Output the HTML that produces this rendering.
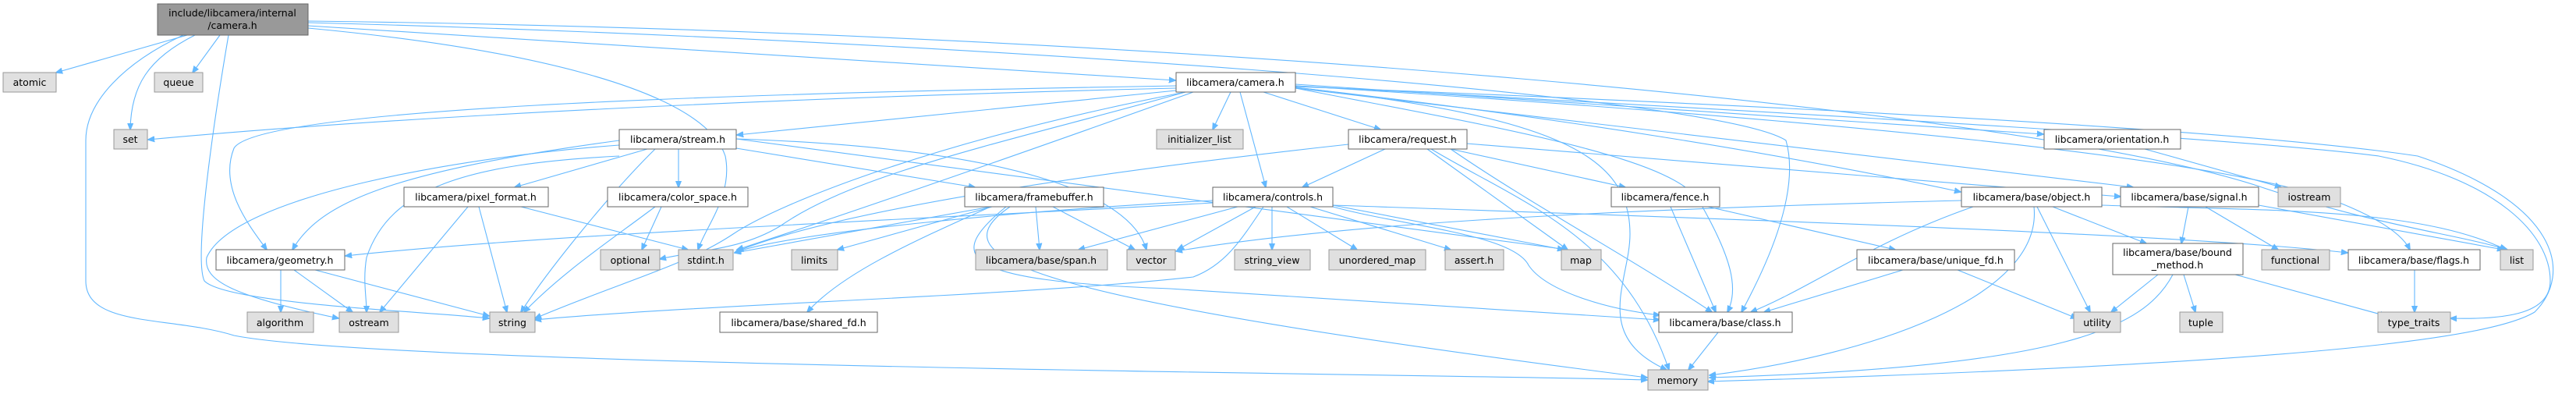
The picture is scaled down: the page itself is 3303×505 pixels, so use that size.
<!DOCTYPE html>
<html><head><meta charset="utf-8"><style>
html,body{margin:0;padding:0;background:#fff;}
svg{display:block;}
text{font-family:"DejaVu Sans","Liberation Sans",sans-serif;font-size:12.5px;fill:#000;text-anchor:middle;}
.g{fill:#e0e0e0;stroke:#999;stroke-width:1;}
.w{fill:#fff;stroke:#666;stroke-width:1;}
.e{fill:none;stroke:#63b8ff;stroke-width:1.1;}
</style></head><body>
<svg width="3303" height="505" viewBox="0 0 3303 505" xmlns="http://www.w3.org/2000/svg">
<defs><marker id="a" viewBox="0 0 10 10" refX="9" refY="5" markerWidth="9" markerHeight="9" markerUnits="userSpaceOnUse" orient="auto"><path d="M0,1 L10,5 L0,9 z" fill="#63b8ff" stroke="#63b8ff"/></marker></defs>
<g marker-end="url(#a)">
<!-- main -->
<path class="e" d="M240,45 L72,93"/>
<path class="e" d="M282,45 L247,93"/>
<path class="e" d="M250,45 C190,75 168,110 167,166"/>
<path class="e" d="M235,45 C160,80 110,130 110,180 L110,360 C110,420 220,405 300,430 C500,470 1900,480 2112,487"/>
<path class="e" d="M293,45 C275,150 248,330 262,360 C290,390 560,400 627,408"/>
<path class="e" d="M395,36 C650,60 900,110 930,200 C940,250 905,290 895,320"/>
<path class="e" d="M395,33 L1507,103"/>
<path class="e" d="M395,29 C1200,50 2200,120 2290,180 C2310,250 2260,350 2233,400"/>
<path class="e" d="M395,27 C1500,40 2600,140 2900,240 C3050,290 3150,300 3215,320"/>
<!-- camera.h -->
<path class="e" d="M1508,113 C1000,125 500,150 190,179"/>
<path class="e" d="M1508,110 C900,120 330,140 300,190 C280,240 320,290 342,320"/>
<path class="e" d="M1508,116 L945,173"/>
<path class="e" d="M1578,118 L1555,166"/>
<path class="e" d="M1590,118 L1623,240"/>
<path class="e" d="M1620,118 L1770,166"/>
<path class="e" d="M1520,118 C1200,180 1000,260 940,300 C880,340 800,360 686,408"/>
<path class="e" d="M1530,118 C1300,200 1100,270 945,320"/>
<path class="e" d="M1520,118 C1300,180 1100,220 1000,290 C950,320 900,320 846,332"/>
<path class="e" d="M1661,108 L2620,172"/>
<path class="e" d="M1661,112 C2000,150 2300,200 2514,246"/>
<path class="e" d="M1661,113 L2735,240"/>
<path class="e" d="M1661,110 C2300,150 2850,200 3000,260 C3050,280 3080,300 3090,320"/>
<path class="e" d="M1661,112 C2000,150 2090,200 2090,300 C2090,360 2040,430 2137,474"/>
<path class="e" d="M1661,113 C1900,160 2150,200 2180,260 C2220,330 2230,370 2215,400"/>
<path class="e" d="M1661,110 C2400,150 2900,180 3050,200 C3200,230 3270,300 3270,360 C3270,400 3220,410 3142,408"/>
<path class="e" d="M1661,111 C2400,140 2900,170 3100,200 C3280,260 3300,350 3250,400 C3200,430 3000,465 2190,489"/>
<!-- stream.h -->
<path class="e" d="M830,191 L660,240"/>
<path class="e" d="M870,191 L870,240"/>
<path class="e" d="M944,190 L1250,240"/>
<path class="e" d="M794,180 C500,220 410,260 375,320"/>
<path class="e" d="M840,191 C780,250 700,350 668,400"/>
<path class="e" d="M794,186 C600,200 300,250 265,330 C260,360 300,380 434,408"/>
<path class="e" d="M944,178 C1300,190 1450,250 1470,320"/>
<path class="e" d="M944,178 L2010,320"/>
<path class="e" d="M794,200 C600,210 500,240 470,330 C465,360 470,380 470,400"/>
<!-- pixel_format -->
<path class="e" d="M600,265 L487,400"/>
<path class="e" d="M614,265 L650,400"/>
<path class="e" d="M668,265 L882,320"/>
<!-- color_space -->
<path class="e" d="M848,265 L823,320"/>
<path class="e" d="M840,265 C780,310 720,350 672,400"/>
<!-- geometry -->
<path class="e" d="M360,346 L360,400"/>
<path class="e" d="M377,346 L452,400"/>
<path class="e" d="M404,346 L627,405"/>
<!-- framebuffer -->
<path class="e" d="M1270,265 L942,324"/>
<path class="e" d="M1272,265 L1074,320"/>
<path class="e" d="M1328,265 L1333,320"/>
<path class="e" d="M1350,265 L1455,320"/>
<path class="e" d="M1270,265 C1170,310 1080,350 1035,400"/>
<path class="e" d="M1290,265 C1210,330 1230,360 1500,370 L2128,410"/>
<path class="e" d="M1295,265 C1200,330 1300,380 2112,484"/>
<!-- controls -->
<path class="e" d="M1555,257 C1300,270 1000,300 942,324"/>
<path class="e" d="M1587,265 L1383,320"/>
<path class="e" d="M1610,265 L1510,320"/>
<path class="e" d="M1631,265 L1631,320"/>
<path class="e" d="M1650,265 L1740,320"/>
<path class="e" d="M1680,265 L1860,320"/>
<path class="e" d="M1709,263 L2005,320"/>
<path class="e" d="M1709,265 C1800,290 1940,300 1960,340 C1980,370 2050,395 2128,404"/>
<path class="e" d="M1620,265 C1590,310 1570,340 1530,355 C1300,380 900,390 686,410"/>
<path class="e" d="M1555,260 C1200,280 700,300 443,328"/>
<path class="e" d="M1709,263 C2200,280 2800,300 3010,324"/>
<!-- request -->
<path class="e" d="M1776,191 L1670,240"/>
<path class="e" d="M1830,191 L2010,320"/>
<path class="e" d="M1835,191 C1950,260 2080,300 2140,474"/>
<path class="e" d="M1860,191 C1960,260 2090,330 2195,400"/>
<path class="e" d="M1860,191 L2084,240"/>
<path class="e" d="M1729,185 C1500,210 1100,260 945,322"/>
<path class="e" d="M1881,184 L2719,252"/>
<!-- fence -->
<path class="e" d="M2142,265 L2200,400"/>
<path class="e" d="M2190,265 L2430,320"/>
<!-- unique_fd -->
<path class="e" d="M2440,346 L2262,400"/>
<path class="e" d="M2510,346 L2663,408"/>
<!-- object -->
<path class="e" d="M2530,265 C2400,310 2320,370 2245,400"/>
<path class="e" d="M2608,265 C2620,380 2400,455 2192,481"/>
<path class="e" d="M2612,265 L2680,400"/>
<path class="e" d="M2632,265 L2752,312"/>
<path class="e" d="M2695,263 C2900,270 3100,265 3213,320"/>
<path class="e" d="M2515,257 C2000,270 1700,290 1508,322"/>
<!-- signal -->
<path class="e" d="M2806,265 L2797,312"/>
<path class="e" d="M2828,265 L2921,320"/>
<path class="e" d="M2896,263 L3210,320"/>
<!-- bound method -->
<path class="e" d="M2767,352 L2707,400"/>
<path class="e" d="M2800,352 L2815,400"/>
<path class="e" d="M2866,352 L3060,405"/>
<path class="e" d="M2786,352 C2750,420 2650,470 2192,484"/>
<!-- misc -->
<path class="e" d="M3096,346 L3096,400"/>
<path class="e" d="M2750,191 L2925,240"/>
<path class="e" d="M2203,426 L2165,474"/>
</g>
<!-- nodes -->
<rect x="202" y="5" width="193" height="40" fill="#999" stroke="#666"/>
<text x="298" y="21">include/libcamera/internal</text>
<text x="298" y="37">/camera.h</text>
<g>
<rect class="g" x="4" y="93" width="68" height="25"/><text x="38" y="110">atomic</text>
<rect class="g" x="198" y="93" width="62" height="25"/><text x="229" y="110">queue</text>
<rect class="g" x="146" y="166" width="43" height="25"/><text x="167" y="183">set</text>
<rect class="w" x="1508" y="93" width="153" height="25"/><text x="1584" y="110">libcamera/camera.h</text>
<rect class="w" x="794" y="166" width="150" height="25"/><text x="869" y="183">libcamera/stream.h</text>
<rect class="g" x="1483" y="166" width="111" height="25"/><text x="1538" y="183">initializer_list</text>
<rect class="w" x="1729" y="166" width="152" height="25"/><text x="1805" y="183">libcamera/request.h</text>
<rect class="w" x="2621" y="166" width="175" height="25"/><text x="2708" y="183">libcamera/orientation.h</text>
<rect class="w" x="518" y="240" width="185" height="25"/><text x="610" y="257">libcamera/pixel_format.h</text>
<rect class="w" x="779" y="240" width="180" height="25"/><text x="869" y="257">libcamera/color_space.h</text>
<rect class="w" x="1237" y="240" width="178" height="25"/><text x="1326" y="257">libcamera/framebuffer.h</text>
<rect class="w" x="1555" y="240" width="154" height="25"/><text x="1632" y="257">libcamera/controls.h</text>
<rect class="w" x="2066" y="240" width="139" height="25"/><text x="2135" y="257">libcamera/fence.h</text>
<rect class="w" x="2515" y="240" width="180" height="25"/><text x="2605" y="257">libcamera/base/object.h</text>
<rect class="w" x="2719" y="240" width="177" height="25"/><text x="2807" y="257">libcamera/base/signal.h</text>
<rect class="g" x="2921" y="240" width="80" height="25"/><text x="2961" y="257">iostream</text>
<rect class="w" x="277" y="320" width="165" height="26"/><text x="359" y="338">libcamera/geometry.h</text>
<rect class="g" x="770" y="320" width="76" height="26"/><text x="808" y="338">optional</text>
<rect class="g" x="870" y="320" width="70" height="26"/><text x="905" y="338">stdint.h</text>
<rect class="g" x="1015" y="320" width="59" height="26"/><text x="1044" y="338">limits</text>
<rect class="g" x="1251" y="320" width="169" height="26"/><text x="1335" y="338">libcamera/base/span.h</text>
<rect class="g" x="1445" y="320" width="62" height="26"/><text x="1476" y="338">vector</text>
<rect class="g" x="1583" y="320" width="97" height="26"/><text x="1631" y="338">string_view</text>
<rect class="g" x="1704" y="320" width="124" height="26"/><text x="1766" y="338">unordered_map</text>
<rect class="g" x="1853" y="320" width="75" height="26"/><text x="1890" y="338">assert.h</text>
<rect class="g" x="2002" y="320" width="51" height="26"/><text x="2027" y="338">map</text>
<rect class="w" x="2381" y="320" width="202" height="26"/><text x="2482" y="338">libcamera/base/unique_fd.h</text>
<rect class="w" x="2709" y="312" width="167" height="40"/><text x="2792" y="328">libcamera/base/bound</text><text x="2792" y="344">_method.h</text>
<rect class="g" x="2900" y="320" width="87" height="26"/><text x="2943" y="338">functional</text>
<rect class="w" x="3011" y="320" width="169" height="26"/><text x="3095" y="338">libcamera/base/flags.h</text>
<rect class="g" x="3206" y="320" width="42" height="26"/><text x="3227" y="338">list</text>
<rect class="g" x="317" y="400" width="85" height="26"/><text x="359" y="418">algorithm</text>
<rect class="g" x="435" y="400" width="76" height="26"/><text x="473" y="418">ostream</text>
<rect class="g" x="628" y="400" width="58" height="26"/><text x="657" y="418">string</text>
<rect class="w" x="923" y="400" width="202" height="26"/><text x="1024" y="418">libcamera/base/shared_fd.h</text>
<rect class="w" x="2127" y="400" width="171" height="26"/><text x="2212" y="418">libcamera/base/class.h</text>
<rect class="g" x="2659" y="400" width="60" height="26"/><text x="2689" y="418">utility</text>
<rect class="g" x="2795" y="400" width="55" height="26"/><text x="2822" y="418">tuple</text>
<rect class="g" x="3049" y="400" width="93" height="26"/><text x="3095" y="418">type_traits</text>
<rect class="g" x="2113" y="474" width="77" height="26"/><text x="2151" y="492">memory</text>
</g>
</svg>
</body></html>
